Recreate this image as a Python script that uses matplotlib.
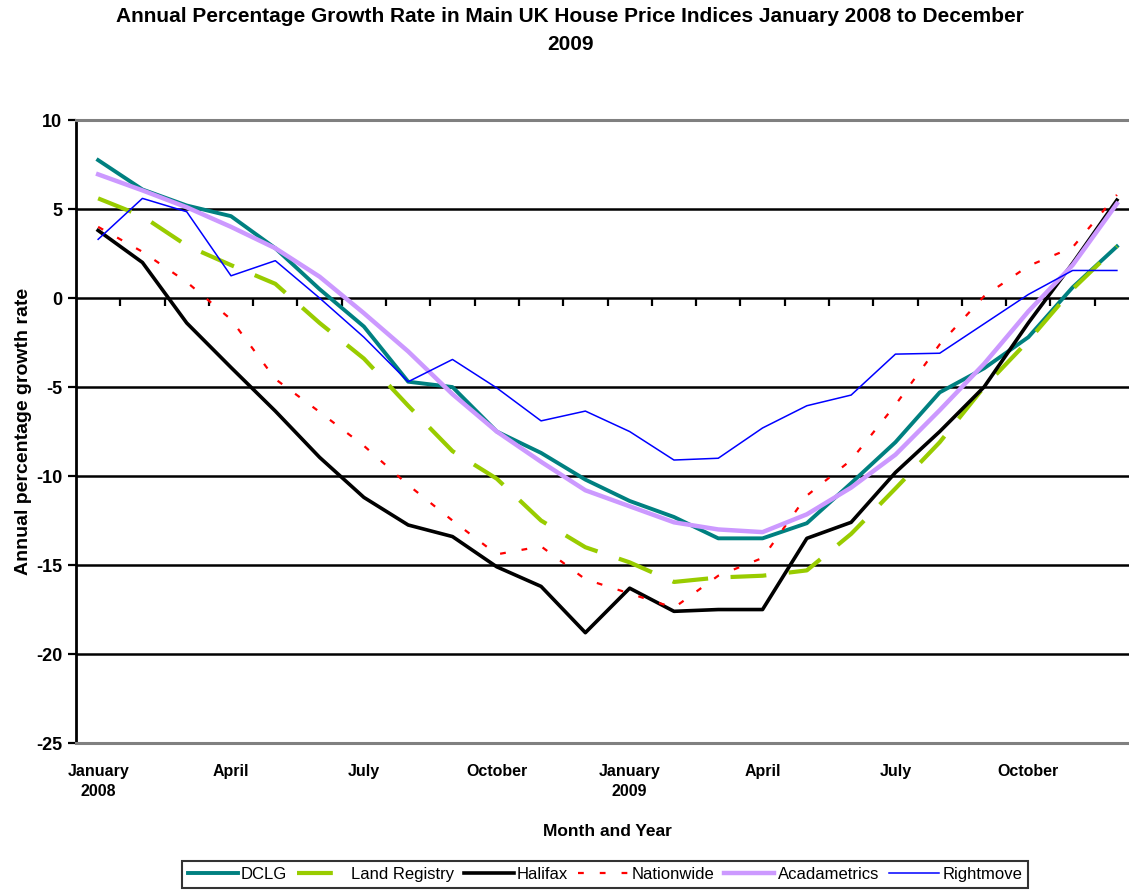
import numpy as np
import matplotlib.pyplot as plt

plt.rcParams['font.family'] = ['Liberation Sans', 'DejaVu Sans']
plt.rcParams['axes.unicode_minus'] = False

# monthly index positions, January 2008 .. December 2009
months = np.arange(24)
tick_months = [0, 3, 6, 9, 12, 15, 18, 21]
tick_labels = ['January\n2008', 'April', 'July', 'October',
               'January\n2009', 'April', 'July', 'October']

# annual % change by index
dclg = [7.75, 6.1, 5.2, 4.6, 2.8, 0.5, -1.6, -4.7, -5.0, -7.5, -8.7, -10.2,
        -11.4, -12.3, -13.5, -13.5, -12.65, -10.4, -8.1, -5.3, -3.95, -2.2, 0.6, 2.9]
land_registry = [5.6, 4.6, 2.95, 1.85, 0.8, -1.4, -3.4, -6.05, -8.6, -10.15, -12.5, -14.0,
                 -14.85, -15.95, -15.7, -15.6, -15.3, -13.25, -10.7, -8.1, -5.0, -2.4, 0.5, 2.9]
halifax = [3.8, 2.0, -1.4, -3.9, -6.35, -8.95, -11.2, -12.75, -13.4, -15.1, -16.2, -18.8,
           -16.3, -17.6, -17.5, -17.5, -13.5, -12.6, -9.8, -7.5, -5.0, -1.4, 1.95, 5.5]
nationwide = [4.0, 2.6, 0.9, -1.2, -4.55, -6.4, -8.3, -10.5, -12.5, -14.4, -13.95, -15.8,
              -16.6, -17.4, -15.6, -14.6, -11.1, -9.1, -6.0, -2.6, 0.1, 1.8, 2.85, 5.8]
acadametrics = [6.95, 6.05, 5.1, 4.0, 2.8, 1.2, -0.85, -3.0, -5.4, -7.5, -9.2, -10.8,
                -11.7, -12.6, -13.0, -13.15, -12.15, -10.65, -8.8, -6.3, -3.7, -0.75, 1.85, 5.3]
rightmove = [3.3, 5.6, 4.85, 1.25, 2.1, 0.0, -2.2, -4.7, -3.45, -5.05, -6.9, -6.35,
             -7.5, -9.1, -9.0, -7.3, -6.05, -5.45, -3.15, -3.1, -1.45, 0.2, 1.55, 1.55]

fig = plt.figure(figsize=(11.29, 8.92), dpi=100)
ax = fig.add_axes([0.0673, 0.167, 0.9416, 0.6984])

for y in range(-20, 10, 5):
    ax.axhline(y, color='black', lw=1.8, zorder=1)

ax.plot(months, dclg, color='#008080', lw=2.8, label='DCLG', zorder=3)
ax.plot(months, land_registry, color='#99CC00', lw=3, dashes=(8.6, 5.4), label='Land Registry', zorder=3)
ax.plot(months, halifax, color='black', lw=2.6, label='Halifax', zorder=3)
ax.plot(months, nationwide, color='red', lw=1.6, dashes=(2.6, 7.2), label='Nationwide', zorder=3)
ax.plot(months, acadametrics, color='#CC99FF', lw=3.2, label='Acadametrics', zorder=3)
ax.plot(months, rightmove, color='blue', lw=1.1, label='Rightmove', zorder=3)

ax.set_xlim(-0.5, 23.5)
ax.set_ylim(-25, 10)
ax.set_yticks(range(-25, 11, 5))
ax.set_xticks(tick_months, tick_labels)
ax.tick_params(axis='x', length=0, pad=15, labelsize=11.5)
ax.tick_params(axis='y', direction='out', length=6, width=1.6, pad=4, labelsize=13)
for lab in ax.get_xticklabels() + ax.get_yticklabels():
    lab.set_fontweight('bold')
for lab in ax.get_xticklabels():
    lab.set_linespacing(1.45)

ax.spines['top'].set_color('#808080')
ax.spines['bottom'].set_color('#808080')
ax.spines['top'].set_linewidth(2.2)
ax.spines['bottom'].set_linewidth(2.2)
ax.spines['left'].set_linewidth(2)
ax.spines['right'].set_visible(False)

# category boundary ticks along the zero line
sec = ax.secondary_xaxis(25 / 35)
sec.set_xticks(np.arange(0.5, 23, 1))
sec.xaxis.set_ticks_position('bottom')
sec.tick_params(direction='out', length=6, width=1.6, labelbottom=False, labeltop=False)
for sp in sec.spines.values():
    sp.set_visible(False)

ax.set_ylabel('Annual percentage growth rate', fontsize=14, fontweight='bold')
ax.yaxis.set_label_coords(-0.041, 0.5)
ax.set_xlabel('Month and Year', fontsize=12.5, fontweight='bold')
ax.xaxis.set_label_coords(0.5, -0.13)

fig.text(0.505, 1 - 7 / 892,
         'Annual Percentage Growth Rate in Main UK House Price Indices January 2008 to December\n2009',
         ha='center', va='top', fontsize=15, fontweight='bold', linespacing=1.6)

leg = fig.legend(loc='upper center', bbox_to_anchor=(605 / 1129, 1 - 861 / 892), ncol=6,
                 prop={'size': 12},
                 handlelength=3.0, handletextpad=0.2, columnspacing=0.6,
                 fancybox=False, edgecolor='black', borderpad=0.35, borderaxespad=0)
leg.get_frame().set_linewidth(1.5)

fig.savefig('out.png', dpi=100)
